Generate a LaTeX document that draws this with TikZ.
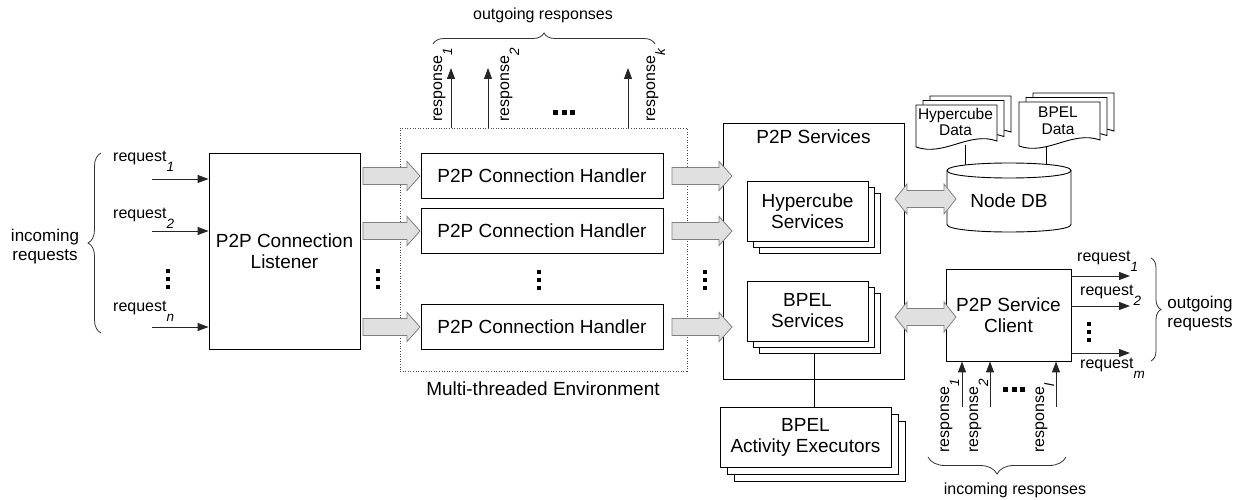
\documentclass[tikz,border=0pt]{standalone}
\usepackage{fontspec}
\setmainfont{Liberation Sans}
\usetikzlibrary{arrows.meta,shadows,decorations.pathreplacing,calc}
\newcommand\fbig{\fontsize{19}{21}\selectfont}
\newcommand\fmed{\fontsize{16}{19}\selectfont}
\newcommand\fbrc{\fontsize{17}{19}\selectfont}
\newcommand\fdoc{\fontsize{15.5}{16.5}\selectfont}
\newcommand\sbs[1]{\raisebox{-10pt}{\fontsize{13.5}{14}\selectfont\itshape #1}}
\newcommand\garr[3]{\draw[garrow] (#1,#3-8.5) -- (#2-13,#3-8.5) -- (#2-13,#3-14.5) -- (#2,#3) -- (#2-13,#3+14.5) -- (#2-13,#3+8.5) -- (#1,#3+8.5) -- cycle;}
\newcommand\gdarr[3]{\draw[garrow] (#1,#3) -- (#1+12,#3-15) -- (#1+12,#3-8.5) -- (#2-12,#3-8.5) -- (#2-12,#3-15) -- (#2,#3) -- (#2-12,#3+15) -- (#2-12,#3+8.5) -- (#1+12,#3+8.5) -- (#1+12,#3+15) -- cycle;}
\newcommand\vdts[2]{\foreach \d in {-8,0,8}{\fill (#1-2.2,#2+\d-2.2) rectangle (#1+2.2,#2+\d+2.2);}}
\newcommand\hdts[2]{\foreach \d in {-8.5,0,8.5}{\fill (#1+\d-2.5,#2-2.5) rectangle (#1+\d+2.5,#2+2.5);}}
\newcommand\docu[4]{\draw[docst] (#1,#2) -- (#3,#2) -- (#3,#4-6) .. controls (#3-28,#4-16) and (#1+28,#4+10) .. (#1,#4) -- cycle;}
\begin{document}
\begin{tikzpicture}[x=1pt,y=-1pt,
  box/.style={draw, line width=0.9pt, fill=white, align=center, font=\fbig, inner sep=0pt},
  stk/.style={double copy shadow={shadow xshift=#1, shadow yshift=-#1}},
  garrow/.style={draw=black!50, fill=black!12, line width=0.8pt},
  tarr/.style={draw=black!85, line width=1pt, -{Triangle[length=11pt,width=8pt]}},
  lbl/.style={font=\fmed, inner sep=0pt},
  brc/.style={decorate, decoration={brace, amplitude=#1}, draw=black!80, line width=0.8pt},
  docst/.style={draw, line width=0.9pt, fill=white},
  envst/.style={draw=black!70, line width=0.9pt, dash pattern=on 1pt off 1.6pt}]
\fill[white] (0,0) rectangle (1239,500);
\useasboundingbox (0,0) rectangle (1239,500);

% multi-threaded environment
\node[envst, minimum width=287pt, minimum height=243pt, inner sep=0pt] (env) at (543.5,249.5) {};
\node[font=\fbig] (envl) at (543,389) {Multi-threaded Environment};

% listener and handlers
\node[box, minimum width=151pt, minimum height=196pt] (lis) at (284.5,251) {P2P Connection\\Listener};
\node[box, minimum width=242pt, minimum height=45pt] (h1) at (542,176) {P2P Connection Handler};
\node[box, minimum width=242pt, minimum height=45pt] (h2) at (542,231) {P2P Connection Handler};
\node[box, minimum width=242pt, minimum height=45pt] (h3) at (542,327) {P2P Connection Handler};

% P2P services
\node[draw, line width=0.9pt, minimum width=181pt, minimum height=256pt, inner sep=0pt] (ps) at (813.5,251) {};
\node[font=\fbig] (pst) at (813.5,137) {P2P Services};
\node[box, stk=6pt, minimum width=121pt, minimum height=60pt] (hyp) at (807.5,211) {Hypercube\\Services};
\node[box, stk=6pt, minimum width=121pt, minimum height=60pt] (bps) at (807.5,311) {BPEL\\Services};
\node[box, stk=7pt, minimum width=171pt, minimum height=60pt] (act) at (805.5,437) {BPEL\\Activity Executors};
\path ($(bps.south)+(6.5,12)$) coordinate (l1);
\draw[line width=0.9pt] (l1) -- (l1 |- act.north);

% client
\node[box, minimum width=125pt, minimum height=92pt] (cli) at (1008.5,315) {P2P Service\\Client};

% data documents and Node DB
\coordinate (dl1) at (965,145);
\coordinate (dl2) at (1046,143);
\draw[line width=0.9pt] (dl1) -- (965,168);
\draw[line width=0.9pt] (dl2) -- (1046,168);
\docu{930}{96}{1011}{138}
\docu{923}{100.5}{1004}{142.5}
\docu{916}{105}{997}{147}
\node[font=\fdoc, align=center, inner sep=0pt] (hd) at (955.5,122) {Hypercube\\Data};
\docu{1033}{93}{1114}{137}
\docu{1026}{97.5}{1107}{141.5}
\docu{1019}{102}{1100}{146}
\node[font=\fdoc, align=center, inner sep=0pt] (bd) at (1058,120.5) {BPEL\\Data};
\draw[line width=0.9pt, fill=white] (947,170.5) -- (947,224.5) .. controls (947,234.5) and (1071,234.5) .. (1071,224.5) -- (1071,170.5);
\draw[line width=0.9pt, fill=white] (947,170.5) .. controls (947,160.5) and (1071,160.5) .. (1071,170.5) .. controls (1071,180.5) and (947,180.5) .. (947,170.5);
\node[font=\fbig] (db) at (1009,201) {Node DB};

% gray block arrows
\garr{363}{420}{176}
\garr{363}{420}{231}
\garr{363}{420}{327}
\garr{672}{732}{176}
\garr{672}{732}{231}
\garr{672}{732}{327}
\gdarr{895}{956}{199}
\gdarr{895}{956}{317}

% incoming requests
\coordinate (q1) at (152,179);
\coordinate (q2) at (152,231);
\coordinate (q3) at (152,327);
\draw[tarr] (q1) -- (q1 -| lis.west);
\draw[tarr] (q2) -- (q2 -| lis.west);
\draw[tarr] (q3) -- (q3 -| lis.west);
\node[lbl, anchor=base west] (ql1) at (113,161.5) {request\sbs{1}};
\node[lbl, anchor=base west] (ql2) at (113,218) {request\sbs{2}};
\node[lbl, anchor=base west] (ql3) at (113,311.5) {request\sbs{n}};
\draw[brc=13pt] (101,333) -- (101,153);
\node[font=\fbrc, align=center] (inreq) at (45,247) {incoming\\requests};
\vdts{168}{279}
\vdts{378}{279}
\vdts{539}{280}
\vdts{705}{280}

% outgoing responses
\coordinate (o1) at (451,68);
\coordinate (o2) at (488,68);
\coordinate (o3) at (628,68);
\draw[tarr] (o1 |- env.north) -- (o1);
\draw[tarr] (o2 |- env.north) -- (o2);
\draw[tarr] (o3 |- env.north) -- (o3);
\node[lbl, rotate=90, anchor=base west] (ol1) at (442,122) {response\sbs{1}};
\node[lbl, rotate=90, anchor=base west] (ol2) at (509,122) {response\sbs{2}};
\node[lbl, rotate=90, anchor=base west] (ol3) at (655,122) {response\sbs{k}};
\hdts{564}{113}
\draw[brc=11pt] (433,44) -- (655,44);
\node[font=\fmed] (outresp) at (543,15) {outgoing responses};

% outgoing requests
\coordinate (p1) at (1130,276);
\coordinate (p2) at (1130,306);
\coordinate (p3) at (1130,353);
\draw[tarr] (p1 -| cli.east) -- (p1);
\draw[tarr] (p2 -| cli.east) -- (p2);
\draw[tarr] (p3 -| cli.east) -- (p3);
\node[lbl, anchor=base west] (pl1) at (1077,261.5) {request\sbs{1}};
\node[lbl, anchor=base west] (pl2) at (1080,295) {request\sbs{2}};
\node[lbl, anchor=base west] (pl3) at (1080,368.5) {request\sbs{m}};
\vdts{1089}{332}
\draw[brc=10pt] (1151,258) -- (1151,361);
\node[font=\fbrc, align=center] (outreq) at (1200,314) {outgoing\\requests};

% incoming responses
\coordinate (i1) at (962,407);
\coordinate (i2) at (990,407);
\coordinate (i3) at (1056,407);
\draw[tarr] (i1) -- (i1 |- cli.south);
\draw[tarr] (i2) -- (i2 |- cli.south);
\draw[tarr] (i3) -- (i3 |- cli.south);
\node[lbl, rotate=90, anchor=base west] (il1) at (949,453) {response\sbs{1}};
\node[lbl, rotate=90, anchor=base west] (il2) at (978,453) {response\sbs{2}};
\node[lbl, rotate=90, anchor=base west] (il3) at (1044,453) {response\sbs{l}};
\hdts{1014}{389}
\draw[brc=17pt] (1066,457) -- (928,457);
\node[font=\fmed] (inresp) at (1015,490) {incoming responses};
\end{tikzpicture}
\end{document}
